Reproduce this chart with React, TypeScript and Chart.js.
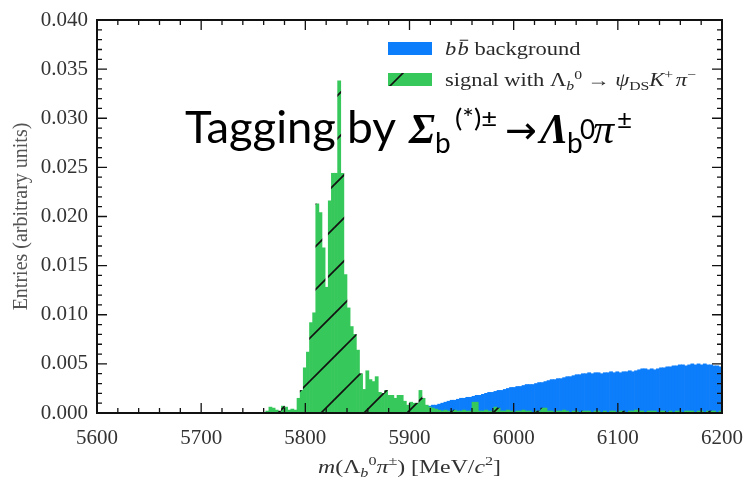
import React, { useEffect, useRef } from 'react';
import { Chart, registerables } from 'chart.js';

Chart.register(...registerables);

// ---- axis ranges / ticks ----
const X_MIN = 5600;
const X_MAX = 6200;
const BIN_WIDTH = 3; // MeV per bin
const X_MAJOR_STEP = 100;
const X_MINOR_STEP = 20;
const Y_MIN = 0;
const Y_MAX = 0.04;
const Y_MAJOR_STEP = 0.005;
const Y_MINOR_STEP = 0.001;

// ---- signal (green, hatched) histogram: bins of 3 MeV starting at 5759 ----
const signalFirstBinLow = 5759;
const signalValues = [
  0, 0.0002, 0.0006, 0.0005, 0.0003, 0.0002, 0.0007, 0.0006, 0.0003, 0.0004,
  0.0003, 0.0015, 0.0023, 0.0046, 0.0062, 0.0092, 0.0102, 0.0213, 0.0204, 0.0168,
  0.0128, 0.0216, 0.0244, 0.0244, 0.0338, 0.0244, 0.0141, 0.0107, 0.0088, 0.008,
  0.0064, 0.004, 0.0024, 0.0043, 0.0034, 0.0032, 0.0037, 0.0021, 0.002, 0.0023,
  0.0018, 0.0018, 0.0015, 0.0018, 0.0018, 0.0012, 0.0008, 0.0011, 0.001, 0.001,
  0.0023, 0.0015, 0.0008,
  // tail up to 6200
  0.0006, 0.0005, 0.0004, 0.0003, 0.0002, 0.0003, 0.0002, 0.0002, 0.0003, 0.0002,
  0.0002, 0.0003, 0.0002, 0.0002, 0.0011, 0.0011, 0.0002, 0.0002, 0.0003, 0.0002,
  0.0002, 0.0006, 0.0005, 0.0002, 0.0002, 0.0003, 0.0002, 0, 0.0002, 0.0002,
  0.0003, 0.0002, 0.0002, 0, 0.0002, 0.0002, 0.0005, 0.0005, 0.0002, 0.0002,
  0, 0.0002, 0.0002, 0.0003, 0.0002, 0, 0.0002, 0.0002, 0, 0.0002,
  0.0002, 0.0002, 0, 0.0002, 0.0002, 0, 0.0002, 0, 0.0002, 0.0002,
  0, 0.0002, 0.0002, 0, 0.0002, 0.0002, 0.0003, 0.0002, 0.0002, 0,
  0.0002, 0.0002, 0.0002, 0, 0.0002, 0.0002, 0, 0.0002, 0, 0.0002,
  0.0002, 0, 0.0002, 0.0002, 0.0002, 0, 0.0002, 0.0002, 0, 0.0002,
  0.0002, 0.0002, 0, 0.0002,
];

// ---- bb̄ background (blue) histogram: bins of 3 MeV starting at 5918 ----
const backgroundFirstBinLow = 5918;
const backgroundValues = [
  0.0007, 0.0008, 0.0008, 0.0009, 0.001, 0.0011, 0.0012, 0.0013, 0.0013, 0.0014,
  0.0015, 0.0015, 0.0016, 0.0016, 0.0017, 0.0018, 0.0018, 0.0019, 0.002, 0.0021,
  0.0021, 0.0022, 0.0023, 0.0023, 0.0024, 0.0025, 0.0026, 0.0026, 0.0027, 0.0027,
  0.0028, 0.0029, 0.0029, 0.0029, 0.003, 0.0031, 0.0031, 0.0032, 0.0033, 0.0034,
  0.0034, 0.0035, 0.0035, 0.0036, 0.0037, 0.0037, 0.0038, 0.0039, 0.0039, 0.004,
  0.004, 0.0041, 0.004, 0.0041, 0.0041, 0.004, 0.0041, 0.0041, 0.0042, 0.0041,
  0.0042, 0.0041, 0.0042, 0.0042, 0.0043, 0.0042, 0.0043, 0.0044, 0.0045, 0.0045,
  0.0044, 0.0045, 0.0044, 0.0045, 0.0046, 0.0046, 0.0047, 0.0047, 0.0048, 0.0048,
  0.0049, 0.0049, 0.0048, 0.0049, 0.005, 0.0049, 0.005, 0.0049, 0.005, 0.0049,
  0.0049, 0.0048, 0.0048, 0.0047,
];

const GREEN = '#37C85B';
const BLUE = '#0C7DFB';
const SERIF = "'Liberation Serif', 'DejaVu Serif', serif";
const SANS = "Lato, 'Open Sans', 'Noto Sans', sans-serif";
const TEXT_STRETCH = 1.25;

function toPoints(firstLow: number, values: number[]) {
  return values.map((v, i) => ({ x: firstLow + i * BIN_WIDTH + BIN_WIDTH / 2, y: v }));
}

type Seg = { t: string; font: string; dy?: number; overline?: boolean; gap?: number; at?: number; sx?: number };

function drawRich(ctx: CanvasRenderingContext2D, segs: Seg[], x: number, y: number, align: 'left' | 'center', sx: number, color: string) {
  let cur = 0;
  const items: { s: Seg; x: number; w: number }[] = [];
  for (const s of segs) {
    ctx.font = s.font;
    const w = ctx.measureText(s.t).width * (s.sx ?? 1);
    if (s.at !== undefined) cur = s.at / sx;
    items.push({ s, x: cur, w });
    cur += w + (s.gap ?? 0);
  }
  const total = cur * sx;
  ctx.save();
  ctx.translate(align === 'center' ? x - total / 2 : x, y);
  ctx.scale(sx, 1);
  ctx.fillStyle = color;
  ctx.strokeStyle = color;
  ctx.textBaseline = 'alphabetic';
  ctx.textAlign = 'left';
  for (const it of items) {
    ctx.font = it.s.font;
    ctx.save();
    ctx.translate(it.x, it.s.dy ?? 0);
    ctx.scale(it.s.sx ?? 1, 1);
    ctx.fillText(it.s.t, 0, 0);
    ctx.restore();
    if (it.s.overline) {
      const size = parseFloat(it.s.font.match(/(\d+(\.\d+)?)px/)![1]);
      ctx.lineWidth = size * 0.06;
      ctx.beginPath();
      ctx.moveTo(it.x + it.w * 0.2, (it.s.dy ?? 0) - size * 0.82);
      ctx.lineTo(it.x + it.w * 0.95, (it.s.dy ?? 0) - size * 0.82);
      ctx.stroke();
    }
  }
  ctx.restore();
}

function makeHatch(ctx: CanvasRenderingContext2D) {
  const size = 43;
  const c = document.createElement('canvas');
  c.width = size;
  c.height = size;
  const g = c.getContext('2d')!;
  g.fillStyle = GREEN;
  g.fillRect(0, 0, size, size);
  g.strokeStyle = '#111';
  g.lineWidth = 1.6;
  const off = 3;
  g.beginPath();
  for (let k = -2; k <= 3; k++) {
    const s = off + k * size;
    g.moveTo(-size, s + size);
    g.lineTo(2 * size, s - 2 * size);
  }
  g.stroke();
  return ctx.createPattern(c, 'repeat')!;
}

const decorPlugin = {
  id: 'decor',
  afterDatasetsDraw(chart: any) {
    const { ctx, chartArea: ca, scales } = chart;
    const xs = scales.x;
    const ys = scales.y;
    ctx.save();
    ctx.strokeStyle = '#111';
    ctx.lineWidth = 1.3;
    ctx.beginPath();
    const nx = Math.round((X_MAX - X_MIN) / X_MINOR_STEP);
    const perMajorX = Math.round(X_MAJOR_STEP / X_MINOR_STEP);
    for (let i = 0; i <= nx; i++) {
      const px = xs.getPixelForValue(X_MIN + i * X_MINOR_STEP);
      const len = i % perMajorX === 0 ? 10 : 5;
      ctx.moveTo(px, ca.bottom);
      ctx.lineTo(px, ca.bottom - len);
      ctx.moveTo(px, ca.top);
      ctx.lineTo(px, ca.top + len);
    }
    const ny = Math.round((Y_MAX - Y_MIN) / Y_MINOR_STEP);
    const perMajorY = Math.round(Y_MAJOR_STEP / Y_MINOR_STEP);
    for (let i = 0; i <= ny; i++) {
      const py = ys.getPixelForValue(Y_MIN + i * Y_MINOR_STEP);
      const len = i % perMajorY === 0 ? 10 : 5;
      ctx.moveTo(ca.left, py);
      ctx.lineTo(ca.left + len, py);
      ctx.moveTo(ca.right, py);
      ctx.lineTo(ca.right - len, py);
    }
    ctx.stroke();
    ctx.lineWidth = 2;
    ctx.strokeRect(ca.left, ca.top, ca.right - ca.left, ca.bottom - ca.top);
    ctx.restore();
  },
  afterDraw(chart: any) {
    const { ctx, chartArea: ca } = chart;
    const pattern = chart.$hatch as CanvasPattern;
    const lf = 18;
    const lx = ca.right - 334;
    // legend
    ctx.save();
    ctx.fillStyle = BLUE;
    ctx.fillRect(lx, ca.top + 22, 44, 13);
    ctx.fillStyle = pattern;
    ctx.fillRect(lx, ca.top + 53, 44, 13);
    ctx.restore();
    const tc = '#2a2a2a';
    drawRich(ctx, [
      { t: 'b', font: `italic ${lf}px ${SERIF}`, gap: 1 },
      { t: 'b', font: `italic ${lf}px ${SERIF}`, overline: true },
      { t: ' background', font: `${lf}px ${SERIF}` },
    ], lx + 57, ca.top + 35, 'left', TEXT_STRETCH, tc);
    const sub = lf * 0.7;
    drawRich(ctx, [
      { t: 'signal with Λ', font: `${lf}px ${SERIF}` },
      { t: 'b', font: `italic ${sub}px ${SERIF}`, dy: 4 },
      { t: '0', font: `${sub}px ${SERIF}`, dy: -7, gap: 4 },
      { t: '→ ', font: `${lf}px ${SERIF}` },
      { t: 'ψ', font: `italic ${lf}px ${SERIF}` },
      { t: 'DS', font: `${sub}px ${SERIF}`, dy: 4 },
      { t: 'K', font: `italic ${lf}px ${SERIF}` },
      { t: '+', font: `${sub}px ${SERIF}`, dy: -7, gap: 2 },
      { t: 'π', font: `italic ${lf}px ${SERIF}` },
      { t: '−', font: `${sub}px ${SERIF}`, dy: -7 },
    ], lx + 57, ca.top + 66, 'left', TEXT_STRETCH, tc);

    // x-axis title
    const xf = 19;
    const xsub = xf * 0.68;
    drawRich(ctx, [
      { t: 'm', font: `italic ${xf}px ${SERIF}` },
      { t: '(Λ', font: `${xf}px ${SERIF}` },
      { t: 'b', font: `italic ${xsub}px ${SERIF}`, dy: 4 },
      { t: '0', font: `${xsub}px ${SERIF}`, dy: -8 },
      { t: 'π', font: `italic ${xf}px ${SERIF}` },
      { t: '±', font: `${xsub}px ${SERIF}`, dy: -8 },
      { t: ') [MeV/', font: `${xf}px ${SERIF}` },
      { t: 'c', font: `italic ${xf}px ${SERIF}` },
      { t: '2', font: `${xsub}px ${SERIF}`, dy: -8 },
      { t: ']', font: `${xf}px ${SERIF}` },
    ], (ca.left + ca.right) / 2, ca.bottom + 60, 'center', TEXT_STRETCH, '#333');

    // overlay annotation
    const big = 44;
    const base = ca.top + 123;
    drawRich(ctx, [
      { t: 'Tagging', font: `${big}px ${SANS}`, at: 0, sx: 1.03 },
      { t: 'by', font: `${big}px ${SANS}`, at: 162, sx: 1.05 },
      { t: 'Σ', font: `bold italic ${big - 2}px ${SERIF}`, at: 224 },
      { t: 'b', font: `${28}px ${SANS}`, dy: 10, at: 250 },
      { t: '(*)±', font: `${25}px ${SANS}`, dy: -16, at: 270, sx: 1.1 },
      { t: '→', font: `${38}px 'DejaVu Sans', sans-serif`, at: 320 },
      { t: 'Λ', font: `bold italic ${big - 2}px ${SERIF}`, at: 355 },
      { t: 'b', font: `${28}px ${SANS}`, dy: 10, at: 382 },
      { t: '0', font: `${26}px ${SANS}`, dy: -4, at: 395 },
      { t: 'π', font: `italic ${big - 2}px ${SERIF}`, at: 408 },
      { t: '±', font: `${26}px ${SANS}`, dy: -14, at: 432 },
    ], ca.left + 88, base, 'left', 1, '#000');
  },
};

export default function App() {
  const ref = useRef<HTMLCanvasElement | null>(null);
  useEffect(() => {
    document.body.style.margin = '0';
    const canvas = ref.current!;
    const ctx = canvas.getContext('2d')!;
    const hatch = makeHatch(ctx);
    const chart = new Chart(canvas, {
      type: 'bar',
      data: {
        datasets: [
          {
            label: 'signal',
            data: toPoints(signalFirstBinLow, signalValues),
            backgroundColor: hatch,
            borderWidth: 0,
            barPercentage: 1,
            categoryPercentage: 1,
            order: 0,
          },
          {
            label: 'bb background',
            data: toPoints(backgroundFirstBinLow, backgroundValues),
            backgroundColor: BLUE,
            borderWidth: 0,
            barPercentage: 1,
            categoryPercentage: 1,
            order: 1,
          },
        ],
      },
      options: {
        responsive: false,
        animation: false,
        events: [],
        datasets: { bar: { grouped: false } },
        layout: { padding: { top: 20, right: 26, left: 0, bottom: 0 } },
        plugins: { legend: { display: false }, tooltip: { enabled: false }, title: { display: false } },
        scales: {
          x: {
            type: 'linear',
            offset: false,
            min: X_MIN,
            max: X_MAX,
            grid: { display: false, drawTicks: false },
            border: { display: true, color: '#111', width: 2 },
            ticks: {
              stepSize: X_MAJOR_STEP,
              padding: 13,
              color: '#333',
              font: { family: SERIF, size: 21 },
              callback: (v: any) => String(v),
              maxRotation: 0,
            },
            afterFit: (s: any) => { s.height = 69; s.paddingLeft = 0; s.paddingRight = 0; },
          },
          y: {
            type: 'linear',
            min: Y_MIN,
            max: Y_MAX,
            grid: { display: false, drawTicks: false },
            border: { display: true, color: '#111', width: 2 },
            ticks: {
              stepSize: Y_MAJOR_STEP,
              padding: 9,
              color: '#333',
              font: { family: SERIF, size: 21 },
              callback: (v: any) => Number(v).toFixed(3),
            },
            title: {
              display: true,
              text: 'Entries (arbitrary units)',
              color: '#555',
              font: { family: SERIF, size: 20 },
              padding: { top: 10, bottom: 0 },
            },
            afterFit: (s: any) => { s.width = 97; s.paddingTop = 0; s.paddingBottom = 0; },
          },
        },
      },
      plugins: [decorPlugin],
    } as any);
    (chart as any).$hatch = hatch;
    chart.draw();
    return () => chart.destroy();
  }, []);
  return (
    <div style={{ width: 748, height: 482, background: '#fff' }}>
      <canvas ref={ref} width={748} height={482} />
    </div>
  );
}
